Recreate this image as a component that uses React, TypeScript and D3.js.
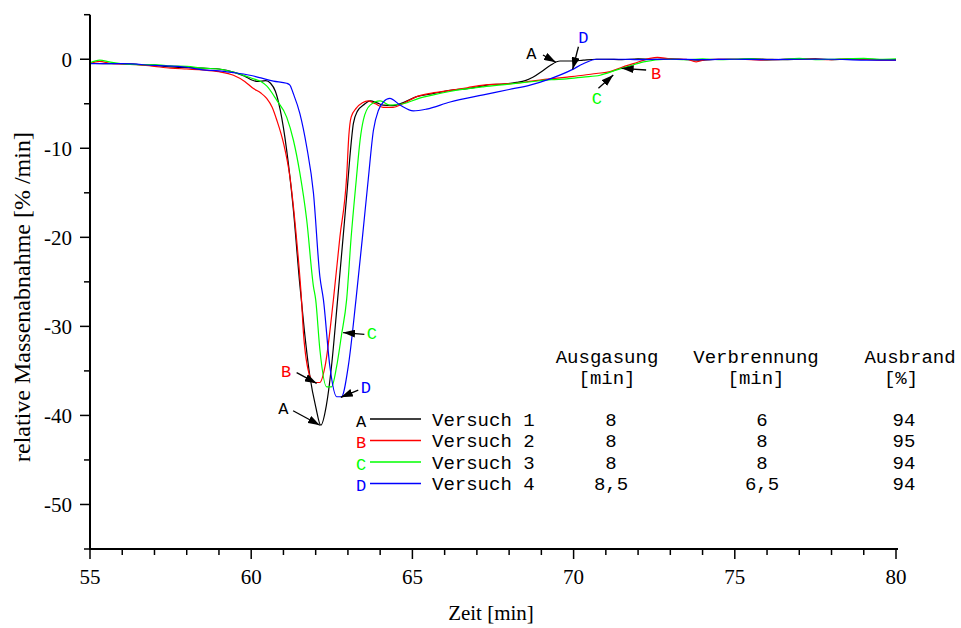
import React, { useEffect } from "react";
import * as d3 from "d3";

// ---------- data ----------
const tA = [55, 55.5, 56, 56.5, 57, 57.5, 58, 58.5, 59, 59.5, 59.8, 60.0, 60.2, 60.45, 60.6, 60.75, 60.9, 61.1, 61.3, 61.5, 61.65, 61.82, 62.0, 62.16, 62.33, 62.49, 62.68, 62.85, 62.97, 63.06, 63.17, 63.3, 63.48, 63.69, 63.9, 64.09, 64.4, 64.7, 65.13, 65.6, 66.17, 66.7, 67.2, 67.4, 67.8, 68.23, 68.5, 68.75, 69.0, 69.27, 69.58, 70.0, 70.3, 70.7, 71.0, 71.5, 72, 72.5, 73, 73.5, 74, 74.5, 75, 75.5, 76, 76.5, 77, 77.5, 78, 78.5, 79, 79.5, 80];
const vA = [-0.45, -0.5, -0.5, -0.6, -0.7, -0.85, -0.95, -1.0, -1.1, -1.5, -1.9, -2.3, -2.5, -2.4, -2.7, -3.6, -5.7, -10.2, -16.6, -25, -30.5, -35.6, -39, -41.1, -38.9, -34.5, -27, -20, -15, -11, -7.2, -5.8, -5.15, -4.67, -4.9, -5.15, -5.2, -4.9, -4.2, -3.9, -3.5, -3.3, -3.0, -2.85, -2.8, -2.6, -2.4, -2.0, -1.4, -0.7, -0.2, -0.2, -0.1, 0.0, 0.0, -0.05, 0.05, 0.0, 0.05, -0.05, -0.1, 0.0, 0.0, 0.05, 0.0, -0.05, 0.0, 0.05, -0.05, 0.0, 0.0, -0.05, -0.05];

const tB = [55, 55.3, 55.6, 56, 56.5, 57, 57.5, 58, 58.5, 59, 59.45, 59.8, 60.07, 60.3, 60.48, 60.65, 60.79, 61.0, 61.2, 61.41, 61.56, 61.62, 61.82, 61.95, 62.13, 62.29, 62.55, 62.75, 62.96, 63.03, 63.1, 63.26, 63.45, 63.63, 63.85, 64.09, 64.4, 64.7, 65.13, 65.6, 66.17, 66.7, 67.2, 67.7, 68.23, 68.7, 69.27, 69.8, 70.3, 70.7, 71.13, 71.5, 71.85, 72.37, 72.6, 73, 73.5, 73.8, 74.1, 74.5, 75, 75.5, 76, 76.5, 77, 77.5, 78, 78.5, 79, 79.5, 80];
const vB = [-0.5, -0.25, -0.45, -0.55, -0.6, -0.8, -1.0, -1.1, -1.2, -1.4, -1.8, -2.5, -3.3, -3.8, -4.4, -5.4, -6.8, -9.4, -13.2, -20.3, -27, -30.7, -35.6, -36.3, -36.3, -34.5, -27, -20, -13.2, -8.5, -6.5, -5.5, -4.9, -4.67, -5.0, -5.4, -5.4, -5.0, -4.2, -3.8, -3.5, -3.2, -2.9, -2.8, -2.7, -2.45, -2.2, -2.0, -1.8, -1.6, -1.4, -0.9, -0.5, 0.1, 0.2, 0.05, 0.0, -0.3, -0.05, 0.0, 0.0, -0.05, -0.1, 0.0, 0.05, 0.0, -0.05, 0.05, 0.0, -0.1, -0.1];

const tC = [55, 55.3, 55.6, 55.95, 56.5, 57, 57.5, 58, 58.5, 59, 59.5, 60.07, 60.3, 60.48, 60.79, 61.1, 61.31, 61.51, 61.72, 61.93, 62.0, 62.13, 62.34, 62.49, 62.65, 62.8, 62.96, 63.1, 63.26, 63.38, 63.48, 63.69, 64.0, 64.3, 64.72, 65.2, 65.65, 66.2, 67.2, 68.0, 68.75, 69.3, 69.78, 70.3, 70.82, 71.34, 71.7, 72.17, 72.9, 73.5, 74, 74.5, 75, 75.5, 76, 76.5, 77, 77.5, 78, 78.5, 79, 79.5, 80];
const vC = [-0.4, -0.1, -0.3, -0.5, -0.6, -0.6, -0.75, -0.8, -1.0, -1.1, -1.5, -2.2, -2.5, -3.0, -4.6, -6.5, -9.1, -12.8, -18, -25.5, -27, -32.6, -36.8, -36.8, -34.5, -31, -27, -20, -13.5, -9, -6.8, -5.15, -4.67, -5.15, -5.0, -4.4, -4.0, -3.6, -3.1, -2.8, -2.5, -2.3, -2.2, -2.0, -1.8, -1.2, -0.8, -0.3, 0.0, -0.05, 0.05, -0.05, 0.0, 0.05, -0.05, 0.0, 0.1, -0.05, 0.0, 0.05, 0.1, 0.0, 0.05];

const tD = [55, 56, 57, 58, 58.5, 59, 59.45, 59.96, 60.3, 60.69, 61.1, 61.2, 61.3, 61.51, 61.72, 61.93, 62.13, 62.24, 62.44, 62.65, 62.8, 63.01, 63.25, 63.45, 63.63, 63.79, 63.95, 64.1, 64.3, 64.62, 65.03, 65.44, 66.17, 67.2, 68.0, 68.65, 69.27, 69.94, 70.3, 70.72, 71.5, 72, 73, 74, 75, 76, 77, 78, 79, 80];
const vD = [-0.5, -0.5, -0.7, -0.9, -1.2, -1.3, -1.5, -1.8, -2.1, -2.45, -2.7, -2.9, -3.8, -6.1, -9.8, -15, -24.4, -27, -34.5, -37.9, -37.9, -34.5, -27, -20, -13.5, -8, -5.7, -4.8, -4.4, -5.15, -5.8, -5.6, -4.8, -4.0, -3.4, -2.9, -2.2, -1.2, -0.5, 0.0, 0.0, -0.05, 0.0, -0.05, 0.0, -0.05, 0.0, 0.0, -0.1, -0.1];

const seriesLetters = ["A", "B", "C", "D"];
const seriesColors = ["#000000", "#ff0000", "#00ff00", "#0000ff"];
const seriesTimes = [tA, tB, tC, tD];
const seriesValues = [vA, vB, vC, vD];

const xTickLabels = [55, 60, 65, 70, 75, 80];
const yTickLabels = [0, -10, -20, -30, -40, -50];

// annotations (data coords): letter, series index, label t/v, arrow from t/v, arrow to t/v
const annLetter = ["A", "D", "B", "C", "C", "B", "D", "A"];
const annSeries = [0, 3, 1, 2, 2, 1, 3, 0];
const annLabelT = [68.69, 70.3, 72.56, 70.72, 63.74, 61.08, 63.56, 61.0];
const annLabelV = [0.73, 2.46, -1.58, -4.39, -30.78, -34.98, -36.78, -39.2];
const annFromT = [69.05, 70.15, 72.25, 70.77, 63.51, 61.41, 63.32, 61.3];
const annFromV = [0.47, 1.4, -1.21, -3.27, -30.9, -35.2, -37.15, -39.47];
const annToT = [69.45, 69.97, 71.49, 71.23, 62.85, 62.03, 62.78, 62.13];
const annToV = [-0.35, -1.13, -1.02, -1.77, -30.7, -36.4, -37.97, -41.1];

// table
const versuche = ["Versuch 1", "Versuch 2", "Versuch 3", "Versuch 4"];
const ausgasung = ["8", "8", "8", "8,5"];
const verbrennung = ["6", "8", "8", "6,5"];
const ausbrand = ["94", "95", "94", "94"];
const tableHeaders = [
  ["Ausgasung", "[min]"],
  ["Verbrennung", "[min]"],
  ["Ausbrand", "[%]"],
];

// ---------- layout ----------
const W = 961;
const H = 628;
const X0 = 90;
const X1 = 896;
const YTOP = 14.7;
const YBOT = 549;

const serif = "'Liberation Serif', 'Times New Roman', serif";
const mono = "'Liberation Mono', 'Courier New', monospace";

export default function App() {
  useEffect(() => {
    document.body.style.margin = "0";
  }, []);

  const x = d3.scaleLinear().domain([55, 80]).range([X0, X1]);
  const y = d3.scaleLinear().domain([-55, 5]).range([YBOT, YTOP]);

  const line = d3
    .line<[number, number]>()
    .x((d) => x(d[0]))
    .y((d) => y(d[1]))
    .curve(d3.curveMonotoneX);

  const xMinor = d3.range(55, 80.01, 1);
  const yMinor = d3.range(-55, 5.01, 5);

  const colX = [607, 756, 910];
  const rowY = [419, 440.5, 462, 483.5];

  return (
    <svg
      width={W}
      height={H}
      style={{ position: "absolute", left: 0, top: 0, display: "block", background: "#fff" }}
    >
      <defs>
        <marker id="ah" viewBox="0 0 12 8" refX="12" refY="4" markerWidth="12" markerHeight="8" markerUnits="userSpaceOnUse" orient="auto">
          <path d="M0,0 L12,4 L0,8 Z" fill="#000" />
        </marker>
      </defs>

      {/* curves */}
      {seriesTimes.map((ts, i) => (
        <path
          key={"s" + i}
          d={line(ts.map((t, j) => [t, seriesValues[i][j]] as [number, number])) || ""}
          fill="none"
          stroke={seriesColors[i]}
          strokeWidth={1.2}
        />
      ))}

      {/* axes */}
      <line x1={X0} x2={X0} y1={YTOP} y2={YBOT} stroke="#000" strokeWidth={2} />
      <line x1={X0 - 1} x2={X1 + 2} y1={YBOT} y2={YBOT} stroke="#000" strokeWidth={2} />

      {xMinor.map((v) => {
        const major = xTickLabels.includes(v);
        return (
          <line key={"xt" + v} x1={x(v)} x2={x(v)} y1={YBOT} y2={YBOT + (major ? 10 : 6)} stroke="#000" strokeWidth={1.5} />
        );
      })}
      {xTickLabels.map((v) => (
        <text key={"xl" + v} x={x(v)} y={584} textAnchor="middle" fontFamily={serif} fontSize={21} fill="#000">
          {String(v)}
        </text>
      ))}

      {yMinor.map((v) => {
        const major = yTickLabels.includes(v);
        return (
          <line key={"yt" + v} x1={X0} x2={X0 - (major ? 10 : 6)} y1={y(v)} y2={y(v)} stroke="#000" strokeWidth={1.5} />
        );
      })}
      {yTickLabels.map((v) => (
        <text key={"yl" + v} x={72} y={y(v)} dy="0.35em" textAnchor="end" fontFamily={serif} fontSize={21} fill="#000">
          {String(v)}
        </text>
      ))}

      <text
        transform={`translate(30, 297) rotate(-90)`}
        textAnchor="middle"
        fontFamily={serif}
        fontSize={24}
        fill="#000"
      >
        relative Massenabnahme [% /min]
      </text>
      <text x={491} y={620} textAnchor="middle" fontFamily={serif} fontSize={21} fill="#000">
        Zeit [min]
      </text>

      {/* annotations */}
      {annLetter.map((L, i) => (
        <g key={"an" + i}>
          <line
            x1={x(annFromT[i])}
            y1={y(annFromV[i])}
            x2={x(annToT[i])}
            y2={y(annToV[i])}
            stroke="#000"
            strokeWidth={1.3}
            markerEnd="url(#ah)"
          />
          <text
            x={x(annLabelT[i])}
            y={y(annLabelV[i])}
            dy="0.35em"
            textAnchor="middle"
            fontFamily={mono}
            fontSize={17}
            fill={seriesColors[annSeries[i]]}
          >
            {L}
          </text>
        </g>
      ))}

      {/* table headers */}
      {tableHeaders.map((h, i) => (
        <g key={"th" + i}>
          <text x={colX[i]} y={356} dy="0.35em" textAnchor="middle" fontFamily={mono} fontSize={19} fill="#000">
            {h[0]}
          </text>
          <text x={i === 2 ? 901 : colX[i]} y={377.5} dy="0.35em" textAnchor="middle" fontFamily={mono} fontSize={19} fill="#000">
            {h[1]}
          </text>
        </g>
      ))}

      {/* legend rows */}
      {versuche.map((v, i) => (
        <g key={"row" + i}>
          <text x={361} y={rowY[i] + 2} dy="0.35em" textAnchor="middle" fontFamily={mono} fontSize={17} fill={seriesColors[i]}>
            {seriesLetters[i]}
          </text>
          <line x1={370} x2={421} y1={rowY[i]} y2={rowY[i]} stroke={seriesColors[i]} strokeWidth={1.3} />
          <text x={432} y={rowY[i]} dy="0.35em" fontFamily={mono} fontSize={19} fill="#000">
            {v}
          </text>
          <text x={611} y={rowY[i]} dy="0.35em" textAnchor="middle" fontFamily={mono} fontSize={19} fill="#000">
            {ausgasung[i]}
          </text>
          <text x={762} y={rowY[i]} dy="0.35em" textAnchor="middle" fontFamily={mono} fontSize={19} fill="#000">
            {verbrennung[i]}
          </text>
          <text x={904} y={rowY[i]} dy="0.35em" textAnchor="middle" fontFamily={mono} fontSize={19} fill="#000">
            {ausbrand[i]}
          </text>
        </g>
      ))}
    </svg>
  );
}
